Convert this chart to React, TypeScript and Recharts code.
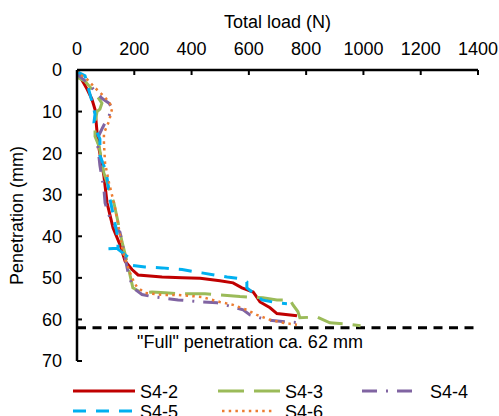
import React from 'react';
import { LineChart, Line, XAxis, YAxis, ReferenceLine } from 'recharts';

// axis ticks
const loadTicks = [0, 200, 400, 600, 800, 1000, 1200, 1400];
const penTicks = [0, 10, 20, 30, 40, 50, 60, 70];

// S4-2
const s42Load = [0, 10, 35, 52, 63, 70, 77, 94, 105, 126, 150, 168, 192, 213, 297, 367, 430, 499, 545, 576, 615, 639, 674, 698, 768];
const s42Pen = [0, 1.5, 4.6, 7, 9.5, 15, 19, 25.5, 32, 38, 42, 46, 48, 49.3, 49.8, 50, 50.1, 50.7, 51.2, 52.4, 53.4, 55.8, 57.2, 58.6, 59.1];

// S4-3
const s43Load = [0, 7, 28, 63, 87, 80, 70, 63, 63, 77, 94, 112, 129, 143, 157, 175, 185, 195, 227, 262, 307, 353, 447, 569, 649, 698, 744, 754, 771, 778, 838, 883, 940, 990];
const s43Pen = [0, 2, 2.7, 5.5, 8, 9.4, 10, 12.7, 16, 18.3, 24.8, 28.6, 32, 36.5, 41.3, 46.2, 49.3, 52.4, 53.6, 53.4, 53.6, 53.8, 53.8, 54.5, 54.8, 55.3, 55.3, 56.5, 58.1, 59.6, 59.4, 60.8, 61.1, 61.5];

// S4-4
const s44Load = [0, 7, 35, 87, 112, 122, 112, 98, 87, 70, 80, 94, 98, 115, 133, 150, 161, 178, 195, 227, 262, 353, 436, 489, 545, 580, 604, 663, 733, 778];
const s44Pen = [0, 1.4, 3, 6.8, 8, 9.2, 11, 12.7, 14.2, 16.6, 23, 28.6, 32, 35.6, 37.7, 39, 42.8, 48.6, 52.4, 54, 54.5, 55.3, 55.8, 56, 57, 57.7, 58.9, 60.1, 60.6, 60.8];

// S4-5
const s45Load = [0, 3, 28, 52, 63, 59, 70, 80, 80, 94, 105, 115, 133, 143, 143, 108, 145, 178, 195, 237, 297, 367, 436, 524, 569, 593, 593, 615, 632, 646, 698, 733];
const s45Pen = [0, 0.5, 1.4, 7.5, 10.6, 12.7, 15, 16.6, 20.6, 23, 26, 31, 37, 40.4, 42.9, 43, 43.2, 45, 47, 47.4, 47.6, 48, 48.8, 49.8, 50.2, 51, 52.4, 53.6, 54.5, 55.3, 56, 56.2];

// S4-6
const s46Load = [0, 5, 35, 63, 94, 115, 122, 112, 94, 94, 98, 112, 129, 140, 150, 161, 175, 192, 209, 237, 297, 353, 436, 499, 545, 593, 628, 674, 719, 768];
const s46Pen = [0, 0.8, 2.2, 4.3, 6.3, 8, 9.4, 12.3, 15.2, 17.6, 22.4, 27.2, 32, 35.6, 39.7, 43.8, 46.9, 50, 52.2, 53.6, 54.1, 54.1, 54.6, 55.8, 56.5, 57.7, 58.9, 60.1, 60.8, 61.3];

const zip = (load: number[], pen: number[]) => load.map((v, i) => ({ load: v, pen: pen[i] }));

const FONT = "'Liberation Sans', Arial, sans-serif";

const series = [
  { name: 'S4-2', data: zip(s42Load, s42Pen), color: '#C00000', dash: undefined, width: 3 },
  { name: 'S4-3', data: zip(s43Load, s43Pen), color: '#9BBB59', dash: '26 10', width: 3 },
  { name: 'S4-4', data: zip(s44Load, s44Pen), color: '#8064A2', dash: '15 9 2 9', width: 3 },
  { name: 'S4-5', data: zip(s45Load, s45Pen), color: '#00B0F0', dash: '13 10', width: 3 },
  { name: 'S4-6', data: zip(s46Load, s46Pen), color: '#ED7D31', dash: '2.5 4.2', width: 2.5 },
];

const XTitle = (props: any) => {
  const vb = props.viewBox || { x: 77, width: 401 };
  return (
    <text x={vb.x + vb.width / 2} y={28} textAnchor="middle" fontFamily={FONT} fontSize={18} fill="#000">
      Total load (N)
    </text>
  );
};

const YTitle = (props: any) => {
  const vb = props.viewBox || { y: 70, height: 291 };
  const cy = vb.y + vb.height / 2;
  return (
    <text x={23} y={cy} textAnchor="middle" transform={`rotate(-90, 23, ${cy})`} fontFamily={FONT} fontSize={18} fill="#000">
      Penetration (mm)
    </text>
  );
};

const FullLabel = (props: any) => {
  const vb = props.viewBox || { x: 77, y: 328 };
  return (
    <text x={vb.x + 60} y={vb.y + 20} fontFamily={FONT} fontSize={18} fill="#000">
      "Full" penetration ca. 62 mm
    </text>
  );
};

// legend layout: [x of sample start, sample length, text x, row]
const legendPos = [
  [73, 62, 140, 0],
  [218, 62, 285, 0],
  [362, 51, 430, 0],
  [73, 60, 140, 1],
  [222, 53, 285, 1],
];

export default function App() {
  return (
    <div style={{ position: 'absolute', left: 0, top: 0, width: 499, height: 416, background: '#fff' }}>
      <LineChart width={499} height={416} margin={{ top: 0, right: 21, bottom: 55, left: 0 }}>
        <XAxis
          xAxisId={0}
          type="number"
          dataKey="load"
          orientation="top"
          domain={[0, 1400]}
          ticks={loadTicks}
          height={70}
          stroke="#000"
          strokeWidth={2.5}
          tickSize={-5}
          tickMargin={20}
          tick={{ fontFamily: FONT, fontSize: 18, fill: '#000' }}
          tickLine={{ stroke: '#000', strokeWidth: 2 }}
          interval={0}
          allowDataOverflow
          label={<XTitle />}
        />
        <YAxis
          yAxisId={0}
          type="number"
          dataKey="pen"
          domain={[0, 70]}
          reversed
          ticks={penTicks}
          width={77}
          stroke="#000"
          strokeWidth={2.5}
          tickSize={-5}
          tickMargin={20}
          tick={{ fontFamily: FONT, fontSize: 18, fill: '#000' }}
          tickLine={{ stroke: '#000', strokeWidth: 2 }}
          interval={0}
          allowDataOverflow
          label={<YTitle />}
        />
        <ReferenceLine
          y={62}
          stroke="#000"
          strokeWidth={3}
          strokeDasharray="9 6.5"
          label={<FullLabel />}
        />
        {series.map((s) => (
          <Line
            key={s.name}
            data={s.data}
            dataKey="pen"
            name={s.name}
            type="linear"
            stroke={s.color}
            strokeWidth={s.width}
            strokeDasharray={s.dash}
            dot={false}
            activeDot={false}
            isAnimationActive={false}
          />
        ))}
      </LineChart>

      {/* Legend below chart; second row is clipped by the frame, as in the original */}
      <svg width={499} height={60} style={{ position: 'absolute', left: 0, top: 376 }}>
        {series.map((s, i) => {
          const [x, len, tx, row] = legendPos[i];
          const y = 15 + row * 20;
          return (
            <g key={s.name}>
              <line x1={x} x2={x + len} y1={y} y2={y} stroke={s.color} strokeWidth={s.width} strokeDasharray={s.dash} />
              <text x={tx} y={y + 6.5} fontFamily={FONT} fontSize={18} fill="#000">
                {s.name}
              </text>
            </g>
          );
        })}
      </svg>
    </div>
  );
}
